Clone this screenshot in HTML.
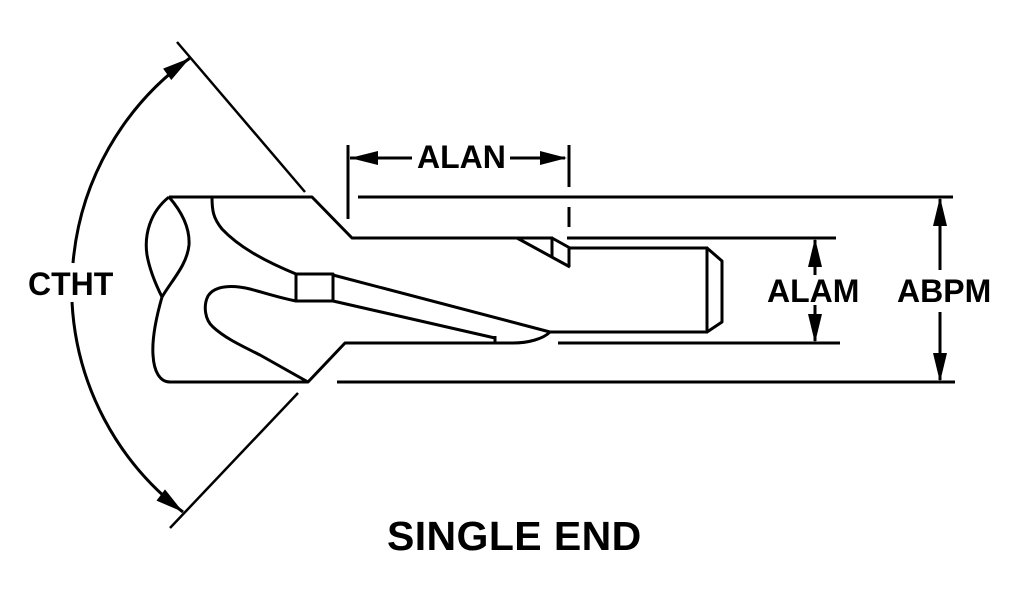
<!DOCTYPE html>
<html><head><meta charset="utf-8"><style>
html,body{margin:0;padding:0;background:#fff;}
svg{display:block;}
text{font-family:"Liberation Sans",Arial,sans-serif;font-weight:bold;fill:#000;}
</style></head><body>
<svg width="1020" height="600" viewBox="0 0 1020 600" xmlns="http://www.w3.org/2000/svg">
<g fill="none" stroke="#000" stroke-width="3" stroke-linejoin="round" stroke-linecap="butt">
<!-- body outline -->
<polyline points="169,197 312,197 352,238 553,238"/>
<polyline points="169,382 308,382 345,343 495,343"/>
<line x1="567" y1="238" x2="836" y2="238"/>
<line x1="558" y1="343" x2="840" y2="343"/>
<line x1="358" y1="197" x2="953" y2="197"/>
<line x1="337" y1="382" x2="955" y2="382"/>
<!-- lens -->
<path d="M169,197 C150,212 144,235 147,255 C150,272 157,287 162,297"/>
<path d="M169,197 C182,212 190,228 189,245 C187,265 172,280 162,297"/>
<path d="M162,297 C156,318 152,340 153,355 C154,372 160,382 170,382"/>
<!-- upper flute -->
<path d="M212,197 C212,210 213,218 222,229 C238,246 262,260 296,274"/>
<rect x="296" y="274" width="37" height="27"/>
<!-- lower loop -->
<path d="M296,301 C280,298 265,293 250,289 C233,285 215,285 208,296 C203,306 205,320 213,327 C225,338 240,345 260,355 L308,382"/>
<!-- spiral lines -->
<line x1="333" y1="275" x2="550" y2="332"/>
<line x1="333" y1="301" x2="495" y2="338"/>
<line x1="495" y1="336" x2="495" y2="343"/>
<path d="M495,343 L513,343 C528,343 543,339 550,332"/>
<!-- step -->
<line x1="517" y1="238" x2="570" y2="267"/>
<line x1="552" y1="238" x2="552" y2="257"/>
<line x1="552" y1="238" x2="570" y2="248"/>
<line x1="569" y1="247" x2="569" y2="267"/>
<!-- shank -->
<line x1="569" y1="248" x2="708" y2="248"/>
<line x1="548" y1="332" x2="708" y2="332"/>
<line x1="707" y1="248" x2="707" y2="332"/>
<polyline points="707,248 722,261 722,322 707,332"/>
<!-- ALAN extension lines -->
<line x1="348" y1="145" x2="348" y2="219"/>
<line x1="569" y1="145" x2="569" y2="187"/>
<line x1="569" y1="207" x2="569" y2="227"/>
<line x1="350" y1="158" x2="412" y2="158"/>
<line x1="510" y1="158" x2="565" y2="158"/>
<!-- ALAM/ABPM lines -->
<line x1="815" y1="240" x2="815" y2="275"/>
<line x1="815" y1="305" x2="815" y2="341"/>
<line x1="940" y1="199" x2="940" y2="270"/>
<line x1="940" y1="312" x2="940" y2="380"/>
<!-- CTHT -->
<line x1="177" y1="42" x2="305" y2="192" stroke-width="2.5"/>
<line x1="298" y1="393" x2="170" y2="528" stroke-width="2.5"/>
<path d="M190,58 A282,282 0 0,0 73,263"/>
<path d="M72,302 A282,282 0 0,0 183,512"/>
</g>
<g fill="#000" stroke="none">
<polygon points="350,158 378,151 378,165"/>
<polygon points="567,158 540,151 540,165"/>
<polygon points="815,238 808,267 822,267"/>
<polygon points="815,343 808,314 822,314"/>
<polygon points="940,197 933,226 947,226"/>
<polygon points="940,382 933,353 947,353"/>
<polygon points="190,58 171.3,80 163.1,68.6"/>
<polygon points="183,512 156.5,500.6 165,489.4"/>
</g>
<text x="417" y="168" font-size="32">ALAN</text>
<text x="28" y="295" font-size="32">CTHT</text>
<text x="767" y="302" font-size="32">ALAM</text>
<text x="897" y="302" font-size="32">ABPM</text>
<text x="387" y="550" font-size="41" letter-spacing="0.4">SINGLE END</text>
</svg>
</body></html>
